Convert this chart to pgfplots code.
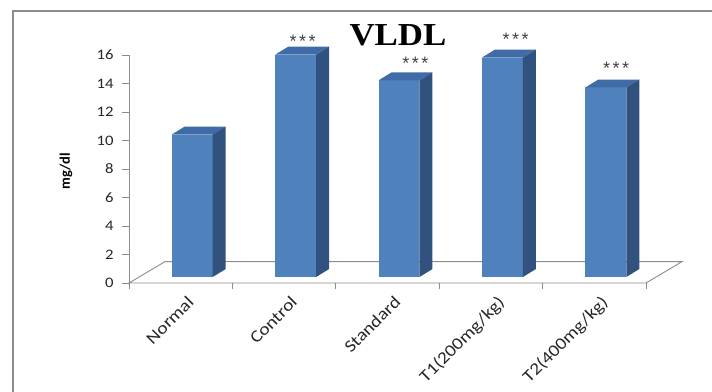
\documentclass[border=0pt]{standalone}
\usepackage{pgfplots}
\pgfplotsset{compat=1.18}
\usepackage{pgfplotstable}
\usepackage{fontspec}
\setmainfont[FakeStretch=1.15]{Carlito}
\newfontfamily\uprightlabel{Carlito}
\newfontfamily\titlefont[FakeStretch=1.09]{Liberation Serif}
\newfontfamily\starfont{Liberation Sans}

\definecolor{barfront}{HTML}{4F81BD}
\definecolor{bartop}{HTML}{3F6CA6}
\definecolor{barside}{HTML}{31527E}
\definecolor{framegray}{HTML}{8C8C8C}
\definecolor{axisgray}{HTML}{8C8C8C}
\definecolor{stargray}{HTML}{404040}

% VLDL (mg/dl) per group; starx/stary place the significance marks
\pgfplotstableread{
pos group        value starx stary
0   Normal       10.0  0.18  0
1   Control      15.6  1.18  17.24
2   Standard     13.8  2.27  15.65
3   T1(200mg/kg) 15.4  3.24  17.35
4   T2(400mg/kg) 13.3  4.21  15.35
}\vldldata

% pseudo-3D geometry, in axis units
\def\floordx{0.348}
\def\floordy{1.5}
\def\barshift{0.111}
\def\barhalf{0.198}
\def\barbase{0.42}
\def\bardx{0.126}
\def\bardy{0.56}

\begin{document}
\begin{tikzpicture}
\useasboundingbox (0,0) rectangle (712bp,392bp);
\draw[framegray, line width=1.3bp] (13bp,-10bp) -- (13bp,381bp) -- (730bp,381bp);
\begin{axis}[
  at={(129bp,109bp)}, anchor=south west,
  scale only axis, width=553bp, height=228bp,
  xmin=-0.5, xmax=4.848, ymin=0, ymax=16,
  clip=false,
  axis x line*=bottom, axis y line*=left,
  x axis line style={draw=none},
  y axis line style={axisgray, line width=0.9bp, -},
  xtick={0,...,4},
  xticklabels from table={\vldldata}{group},
  major x tick style={draw=none},
  minor xtick={-0.5,0.5,1.5,2.5,3.5,4.5},
  minor x tick style={axisgray, line width=0.9bp},
  minor tick length=6bp,
  ytick={0,2,...,16},
  ytick style={axisgray, line width=0.9bp},
  major tick length=7bp,
  tick align=outside,
  /pgf/number format/assume math mode=true,
  yticklabel style={font=\fontsize{14.5bp}{16bp}\selectfont, xshift=-5bp, text=black!85},
  xticklabel style={font=\fontsize{17bp}{19bp}\selectfont, rotate=45, anchor=north east, text=black!85, xshift=4bp, yshift=-4bp},
]
% floor of the chart
\addplot[axisgray, line width=0.9bp, mark=none] coordinates {
  (-0.5,0) (4.5,0) (4.848,1.5) (-0.152,1.5)} -- cycle;

% bars: front, top and side faces
\pgfplotsinvokeforeach{0,...,4}{
  \pgfplotstablegetelem{#1}{value}\of\vldldata
  \let\v\pgfplotsretval
  \pgfmathsetmacro\xl{#1+\barshift-\barhalf}
  \pgfmathsetmacro\xr{#1+\barshift+\barhalf}
  \pgfmathsetmacro\xlb{\xl+\bardx}
  \pgfmathsetmacro\xrb{\xr+\bardx}
  \pgfmathsetmacro\yt{\barbase+\v}
  \pgfmathsetmacro\ytb{\yt+\bardy}
  \pgfmathsetmacro\ybb{\barbase+\bardy}
  \edef\drawbar{%
    \noexpand\addplot[fill=barfront, draw=none, mark=none] coordinates {(\xl,\barbase) (\xl,\yt) (\xr,\yt) (\xr,\barbase)} -- cycle;
    \noexpand\addplot[fill=bartop, draw=none, mark=none] coordinates {(\xl,\yt) (\xlb,\ytb) (\xrb,\ytb) (\xr,\yt)} -- cycle;
    \noexpand\addplot[fill=barside, draw=none, mark=none] coordinates {(\xr,\barbase) (\xr,\yt) (\xrb,\ytb) (\xrb,\ybb)} -- cycle;
  }
  \drawbar
}

% significance marks
\pgfplotsinvokeforeach{1,...,4}{
  \pgfplotstablegetelem{#1}{starx}\of\vldldata
  \let\sx\pgfplotsretval
  \pgfplotstablegetelem{#1}{stary}\of\vldldata
  \let\sy\pgfplotsretval
  \edef\drawstars{%
    \noexpand\node[anchor=base, yshift=-10bp, text=stargray,
      font=\noexpand\starfont\noexpand\fontsize{18bp}{20bp}\noexpand\selectfont]
      at (axis cs:\sx,\sy) {*\noexpand\hspace{2.5bp}*\noexpand\hspace{2.5bp}*};
  }
  \drawstars
}
\end{axis}
\node[anchor=base, font=\titlefont\bfseries\fontsize{32bp}{36bp}\selectfont] at (398bp,346bp) {VLDL};
\node[rotate=90, font=\uprightlabel\bfseries\fontsize{14.5bp}{16bp}\selectfont] at (66bp,221bp) {mg/dl};
\end{tikzpicture}
\end{document}
